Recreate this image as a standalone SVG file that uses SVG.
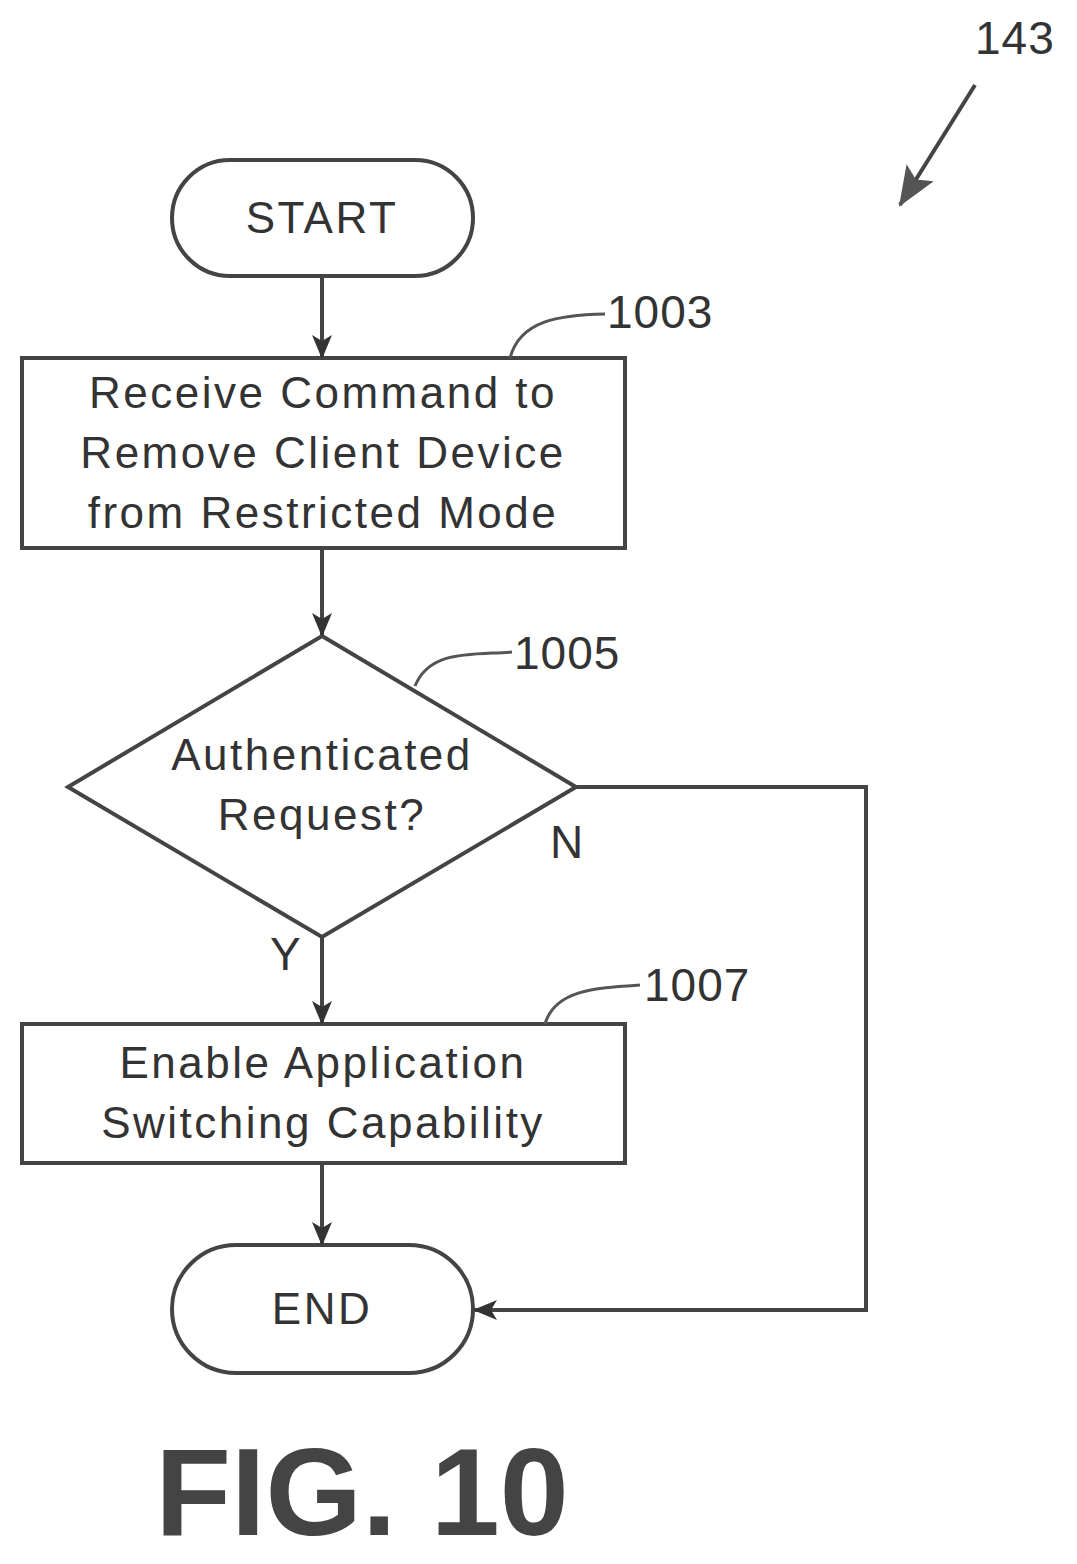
<svg xmlns="http://www.w3.org/2000/svg" width="1077" height="1564" viewBox="0 0 1077 1564">
<defs>
<marker id="ah" markerWidth="24" markerHeight="24" refX="22" refY="12" orient="auto" markerUnits="userSpaceOnUse" viewBox="0 0 24 24"><path d="M0,2 L24,12 L0,22 L6,12 Z" fill="#333"/></marker>
<marker id="ab" markerWidth="40" markerHeight="40" refX="38" refY="20" orient="auto" markerUnits="userSpaceOnUse" viewBox="0 0 40 40"><path d="M0,4 L40,20 L0,36 L8,20 Z" fill="#555"/></marker>
<style>
.s{fill:#fff;stroke:#444;stroke-width:4}
.t{font-family:"Liberation Sans",Arial,sans-serif;font-size:44px;letter-spacing:2.5px;fill:#333;text-anchor:middle}
.l{font-family:"Liberation Sans",Arial,sans-serif;font-size:46px;letter-spacing:1px;fill:#333}
.c{fill:none;stroke:#444;stroke-width:4}
.ld{fill:none;stroke:#555;stroke-width:3}
</style>
</defs>
<g id="start"><rect class="s" x="172" y="160" width="301" height="116" rx="58"/><text class="t" x="322" y="233">START</text></g>
<g id="n1003"><rect class="s" x="22" y="358" width="603" height="190"/><text class="t" x="323" y="408">Receive Command to</text><text class="t" x="323" y="468">Remove Client Device</text><text class="t" x="323" y="528">from Restricted Mode</text>
<path class="ld" d="M510,358 C520,320 560,315 605,314"/><text class="l" x="607" y="328">1003</text></g>
<g id="n1005"><polygon class="s" points="322,636 576,787 322,937 68,787"/><text class="t" x="322" y="770">Authenticated</text><text class="t" x="322" y="830">Request?</text>
<path class="ld" d="M415,686 C430,650 470,655 512,652"/><text class="l" x="514" y="669">1005</text></g>
<g id="n1007"><rect class="s" x="22" y="1024" width="603" height="139"/><text class="t" x="323" y="1078">Enable Application</text><text class="t" x="323" y="1138">Switching Capability</text>
<path class="ld" d="M545,1024 C555,990 595,988 640,985"/><text class="l" x="644" y="1001">1007</text></g>
<g id="end"><rect class="s" x="172" y="1245" width="301" height="128" rx="64"/><text class="t" x="322" y="1324">END</text></g>
<g id="connectors">
<line class="c" x1="322" y1="276" x2="322" y2="357" marker-end="url(#ah)"/>
<line class="c" x1="322" y1="548" x2="322" y2="635" marker-end="url(#ah)"/>
<line class="c" x1="322" y1="937" x2="322" y2="1023" marker-end="url(#ah)"/>
<line class="c" x1="322" y1="1163" x2="322" y2="1244" marker-end="url(#ah)"/>
<polyline class="c" points="576,787 866,787 866,1310 475,1310" marker-end="url(#ah)"/>
<text class="l" x="550" y="858">N</text>
<text class="l" x="270" y="970">Y</text>
</g>
<g id="ref143"><text class="l" x="975" y="54">143</text><line class="c" x1="975" y1="85" x2="900" y2="205" marker-end="url(#ab)"/></g>
<text x="362" y="1535" style="font-family:'Liberation Sans',Arial,sans-serif;font-weight:bold;font-size:124px;fill:#444;text-anchor:middle">FIG. 10</text>
</svg>
